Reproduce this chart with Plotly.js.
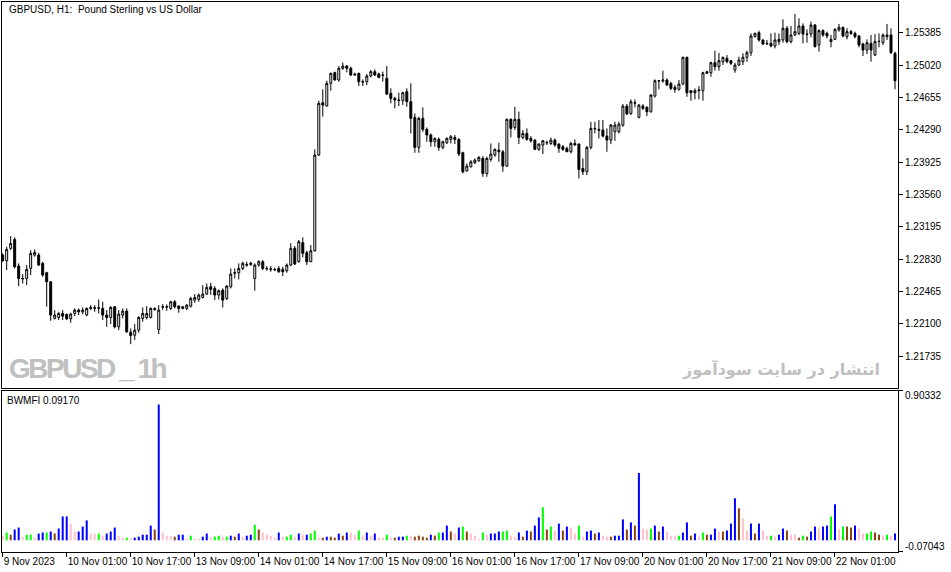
<!DOCTYPE html>
<html>
<head>
<meta charset="utf-8">
<script src="https://cdn.plot.ly/plotly-3.0.1.min.js"></script>
<style>
html, body { margin: 0; padding: 0; background: #fff; }
#graph { width: 951px; height: 572px; }
</style>
</head>
<body>
<div id="graph"></div>
<script>
// GBPUSD H1, 9 Nov 2023 09:00 .. 22 Nov 2023 16:00, one entry per bar
var opens = [
	1.22876,1.22812,1.22951,1.23053,1.22752,1.22612,1.22612,1.22725,1.22876,1.22876,
	1.22782,1.22676,1.22574,1.22160,1.22171,1.22216,1.22205,1.22156,1.22216,1.22254,
	1.22235,1.22198,1.22273,1.22280,1.22276,1.22273,1.22198,1.22171,1.22292,1.22065,
	1.22198,1.22243,1.22005,1.21971,1.22028,1.22160,1.22171,1.22171,1.22273,1.22035,
	1.22292,1.22288,1.22273,1.22348,1.22299,1.22273,1.22273,1.22299,1.22367,1.22375,
	1.22397,1.22435,1.22518,1.22499,1.22424,1.22480,1.22386,1.22518,1.22676,1.22676,
	1.22725,1.22770,1.22770,1.22612,1.22763,1.22801,1.22725,1.22721,1.22714,1.22725,
	1.22714,1.22699,1.22763,1.22952,1.22801,1.23016,1.22903,1.22801,1.22925,1.24006,
	1.24598,1.24560,1.24816,1.24937,1.24854,1.24986,1.25012,1.24986,1.24910,1.24929,
	1.24835,1.24835,1.24899,1.24948,1.24922,1.24906,1.24873,1.24703,1.24646,1.24627,
	1.24620,1.24722,1.24609,1.24431,1.24092,1.24420,1.24296,1.24232,1.24156,1.24183,
	1.24092,1.24145,1.24183,1.24205,1.24183,1.24032,1.23828,1.23873,1.23919,1.23941,
	1.23968,1.23798,1.23956,1.24006,1.24062,1.24043,1.23881,1.24409,1.24318,1.24409,
	1.24205,1.24250,1.24194,1.24175,1.24070,1.24119,1.24149,1.24137,1.24175,1.24130,
	1.24100,1.24081,1.24043,1.24137,1.24130,1.23855,1.23817,1.24092,1.24307,1.24296,
	1.24288,1.24220,1.24175,1.24269,1.24269,1.24344,1.24559,1.24476,1.24597,1.24432,
	1.24559,1.24544,1.24495,1.24672,1.24846,1.24842,1.24853,1.24815,1.24770,1.24748,
	1.24808,1.25110,1.24733,1.24710,1.24733,1.24733,1.24929,1.24936,1.25049,1.25004,
	1.25061,1.25098,1.25072,1.24966,1.25023,1.25061,1.25110,1.25162,1.25343,1.25389,
	1.25306,1.25268,1.25268,1.25238,1.25287,1.25306,1.25438,1.25287,1.25362,1.25381,
	1.25464,1.25373,1.25373,1.25475,1.25249,1.25411,1.25381,1.25287,1.25313,1.25419,
	1.25449,1.25343,1.25400,1.25381,1.25351,1.25260,1.25192,1.25268,1.25136,1.25287,
	1.25275,1.25343,1.25362,1.25155
];
var highs = [
	1.22895,1.22970,1.23091,1.23076,1.22782,1.22661,1.22763,1.22932,1.22940,1.22902,
	1.22801,1.22687,1.22582,1.22254,1.22235,1.22254,1.22216,1.22224,1.22273,1.22273,
	1.22284,1.22284,1.22310,1.22310,1.22375,1.22348,1.22254,1.22299,1.22299,1.22254,
	1.22273,1.22273,1.22047,1.22096,1.22186,1.22284,1.22299,1.22284,1.22284,1.22310,
	1.22322,1.22318,1.22359,1.22367,1.22310,1.22299,1.22322,1.22405,1.22435,1.22442,
	1.22537,1.22555,1.22563,1.22525,1.22488,1.22499,1.22537,1.22725,1.22725,1.22782,
	1.22801,1.22801,1.22801,1.22782,1.22819,1.22819,1.22752,1.22752,1.22733,1.22752,
	1.22744,1.22782,1.23010,1.22978,1.23046,1.23076,1.22925,1.22989,1.24070,1.24620,
	1.24749,1.24846,1.24937,1.24948,1.25012,1.25050,1.25023,1.25004,1.24937,1.24937,
	1.24861,1.24922,1.24967,1.24974,1.24937,1.24948,1.25012,1.24759,1.24665,1.24710,
	1.24722,1.24759,1.24816,1.24477,1.24439,1.24545,1.24318,1.24250,1.24205,1.24205,
	1.24168,1.24205,1.24232,1.24232,1.24194,1.24043,1.23911,1.23949,1.23968,1.23994,
	1.23994,1.23987,1.24137,1.24081,1.24145,1.24062,1.24420,1.24420,1.24552,1.24496,
	1.24288,1.24307,1.24220,1.24183,1.24137,1.24175,1.24168,1.24205,1.24194,1.24137,
	1.24119,1.24100,1.24156,1.24183,1.24137,1.23968,1.24107,1.24382,1.24382,1.24401,
	1.24401,1.24307,1.24356,1.24382,1.24382,1.24582,1.24582,1.24635,1.24635,1.24582,
	1.24582,1.24559,1.24695,1.24861,1.24853,1.24959,1.24872,1.24834,1.24797,1.24853,
	1.25117,1.25117,1.24740,1.24759,1.24785,1.24947,1.24959,1.25061,1.25185,1.25162,
	1.25117,1.25136,1.25079,1.25049,1.25117,1.25155,1.25185,1.25381,1.25389,1.25411,
	1.25313,1.25306,1.25381,1.25389,1.25381,1.25539,1.25464,1.25464,1.25600,1.25551,
	1.25494,1.25426,1.25513,1.25487,1.25426,1.25426,1.25400,1.25362,1.25438,1.25487,
	1.25456,1.25438,1.25419,1.25400,1.25362,1.25275,1.25313,1.25362,1.25373,1.25381,
	1.25381,1.25487,1.25438,1.25174
];
var lows = [
	1.22801,1.22706,1.22932,1.22725,1.22525,1.22555,1.22537,1.22650,1.22857,1.22752,
	1.22631,1.22292,1.22133,1.22148,1.22141,1.22141,1.22141,1.22111,1.22186,1.22198,
	1.22209,1.22186,1.22254,1.22235,1.22216,1.22141,1.22065,1.22096,1.22047,1.22028,
	1.22160,1.21998,1.21869,1.21915,1.21998,1.22122,1.22148,1.22160,1.22246,1.21983,
	1.22254,1.22246,1.22254,1.22273,1.22224,1.22261,1.22254,1.22284,1.22337,1.22348,
	1.22386,1.22424,1.22424,1.22367,1.22375,1.22284,1.22367,1.22499,1.22612,1.22601,
	1.22706,1.22744,1.22752,1.22473,1.22744,1.22706,1.22699,1.22687,1.22695,1.22676,
	1.22638,1.22676,1.22752,1.22763,1.22790,1.22850,1.22763,1.22795,1.22914,1.23995,
	1.24440,1.24553,1.24733,1.24846,1.24835,1.24967,1.24940,1.24899,1.24899,1.24786,
	1.24786,1.24797,1.24884,1.24899,1.24873,1.24835,1.24684,1.24590,1.24533,1.24560,
	1.24571,1.24552,1.24250,1.24032,1.24032,1.24269,1.24156,1.24100,1.24100,1.24054,
	1.24070,1.24130,1.24137,1.24130,1.23994,1.23798,1.23817,1.23866,1.23904,1.23930,
	1.23760,1.23760,1.23930,1.23987,1.23930,1.23817,1.23873,1.24205,1.24288,1.24130,
	1.24183,1.24168,1.24145,1.24062,1.24054,1.24017,1.24119,1.24119,1.24100,1.24032,
	1.24054,1.24040,1.24024,1.24115,1.23742,1.23779,1.23779,1.24070,1.24250,1.24194,
	1.24205,1.24043,1.24129,1.24167,1.24250,1.24325,1.24457,1.24457,1.24544,1.24420,
	1.24514,1.24446,1.24484,1.24657,1.24748,1.24823,1.24785,1.24740,1.24710,1.24733,
	1.24797,1.24665,1.24619,1.24635,1.24635,1.24619,1.24921,1.24891,1.24959,1.24959,
	1.25023,1.25042,1.25023,1.24936,1.25012,1.25023,1.25061,1.25125,1.25336,1.25287,
	1.25249,1.25249,1.25223,1.25211,1.25249,1.25275,1.25268,1.25268,1.25351,1.25362,
	1.25268,1.25275,1.25336,1.25223,1.25174,1.25343,1.25324,1.25223,1.25306,1.25400,
	1.25336,1.25313,1.25362,1.25324,1.25223,1.25125,1.25147,1.25061,1.25125,1.25223,
	1.25249,1.25306,1.25147,1.24748
];
var closes = [
	1.22812,1.22940,1.23008,1.22744,1.22612,1.22608,1.22714,1.22895,1.22906,1.22763,
	1.22650,1.22574,1.22198,1.22198,1.22216,1.22186,1.22156,1.22209,1.22254,1.22235,
	1.22254,1.22273,1.22284,1.22276,1.22280,1.22198,1.22171,1.22284,1.22065,1.22209,
	1.22243,1.22009,1.21967,1.22028,1.22171,1.22216,1.22216,1.22273,1.22261,1.22254,
	1.22288,1.22292,1.22348,1.22292,1.22273,1.22292,1.22310,1.22386,1.22397,1.22424,
	1.22435,1.22510,1.22488,1.22424,1.22473,1.22367,1.22525,1.22661,1.22672,1.22725,
	1.22782,1.22763,1.22782,1.22763,1.22801,1.22725,1.22721,1.22714,1.22710,1.22687,
	1.22687,1.22763,1.22952,1.22775,1.23027,1.22895,1.22801,1.22925,1.24006,1.24590,
	1.24571,1.24816,1.24929,1.24854,1.24986,1.25012,1.24986,1.24910,1.24918,1.24835,
	1.24831,1.24899,1.24948,1.24910,1.24884,1.24910,1.24695,1.24646,1.24627,1.24624,
	1.24710,1.24609,1.24420,1.24092,1.24420,1.24296,1.24232,1.24156,1.24194,1.24092,
	1.24156,1.24194,1.24213,1.24183,1.24017,1.23817,1.23881,1.23930,1.23949,1.23979,
	1.23798,1.23968,1.24017,1.24070,1.24043,1.23881,1.24409,1.24307,1.24409,1.24205,
	1.24250,1.24183,1.24168,1.24070,1.24130,1.24168,1.24145,1.24175,1.24119,1.24081,
	1.24070,1.24043,1.24137,1.24119,1.23843,1.23817,1.24092,1.24307,1.24303,1.24288,
	1.24220,1.24175,1.24344,1.24344,1.24356,1.24559,1.24469,1.24608,1.24593,1.24570,
	1.24533,1.24495,1.24684,1.24846,1.24842,1.24853,1.24797,1.24759,1.24748,1.24808,
	1.25110,1.24710,1.24710,1.24733,1.24740,1.24936,1.24947,1.25049,1.25004,1.25072,
	1.25110,1.25061,1.25042,1.25023,1.25079,1.25110,1.25162,1.25351,1.25381,1.25306,
	1.25260,1.25264,1.25238,1.25306,1.25313,1.25438,1.25287,1.25362,1.25400,1.25464,
	1.25373,1.25369,1.25475,1.25230,1.25411,1.25362,1.25351,1.25313,1.25426,1.25449,
	1.25351,1.25400,1.25381,1.25343,1.25249,1.25192,1.25275,1.25192,1.25287,1.25291,
	1.25362,1.25362,1.25162,1.24846
];

// Bill Williams Market Facilitation Index, one value per bar
var mfi = [
	0.028,0.047,0.034,0.065,0.077,0.022,0.034,0.034,0.016,0.041,
	0.047,0.047,0.053,0.041,0.071,0.144,0.144,0.101,0.053,0.053,
	0.083,0.120,0.041,0.041,0.041,0.028,0.041,0.053,0.077,0.028,
	0.016,0.016,0.010,0.016,0.022,0.034,0.034,0.089,0.065,0.819,
	0.047,0.028,0.028,0.022,0.034,0.034,0.010,0.028,0.010,0.010,
	0.022,0.041,0.016,0.022,0.028,0.022,0.022,0.028,0.022,0.041,
	0.022,0.028,0.034,0.095,0.065,0.047,0.034,0.028,0.016,0.047,
	0.022,0.022,0.034,0.022,0.041,0.034,0.034,0.041,0.059,0.016,
	0.016,0.022,0.022,0.016,0.041,0.028,0.047,0.047,0.034,0.059,
	0.028,0.047,0.028,0.041,0.016,0.016,0.034,0.016,0.016,0.022,
	0.022,0.028,0.028,0.022,0.028,0.022,0.016,0.034,0.028,0.047,
	0.047,0.089,0.053,0.041,0.077,0.083,0.053,0.041,0.028,0.010,
	0.047,0.034,0.041,0.041,0.053,0.053,0.059,0.028,0.022,0.047,
	0.022,0.059,0.053,0.089,0.138,0.199,0.065,0.083,0.059,0.101,
	0.059,0.083,0.077,0.041,0.089,0.022,0.053,0.059,0.041,0.047,
	0.028,0.022,0.022,0.028,0.028,0.126,0.065,0.108,0.089,0.406,
	0.071,0.065,0.071,0.089,0.053,0.083,0.053,0.028,0.028,0.028,
	0.047,0.108,0.028,0.041,0.022,0.047,0.034,0.034,0.071,0.053,
	0.053,0.059,0.101,0.254,0.193,0.132,0.059,0.101,0.041,0.101,
	0.059,0.028,0.028,0.022,0.034,0.071,0.059,0.034,0.034,0.016,
	0.028,0.022,0.053,0.083,0.071,0.083,0.089,0.144,0.217,0.065,
	0.083,0.083,0.077,0.089,0.071,0.041,0.041,0.053,0.047,0.034,
	0.028,0.034,0.028,0.041
];
// g = MFI up & volume up, r = both down (fade), b = MFI up & volume down (fake), p = MFI down & volume up (squat)
var mfiState = [
	'p','g','r','b','b','p','g','g','p','b',
	'b','g','b','r','b','b','b','p','p','b',
	'b','b','p','p','g','p','b','b','b','p',
	'p','g','p','b','b','b','b','b','r','b',
	'p','p','p','r','b','b','p','g','p','p',
	'b','b','p','g','g','p','g','b','r','b',
	'p','b','b','g','r','p','p','p','p','b',
	'p','g','g','p','b','p','b','g','g','p',
	'r','b','r','r','b','r','b','p','p','g',
	'p','b','p','b','p','p','g','p','r','b',
	'b','g','p','r','r','r','r','b','r','g',
	'b','b','r','p','b','g','r','p','p','p',
	'g','p','b','b','b','g','g','p','p','b',
	'r','b','r','b','b','g','r','g','p','b',
	'r','b','p','p','g','p','b','b','r','b',
	'p','p','r','b','b','b','r','b','r','b',
	'p','p','g','b','r','b','p','p','p','g',
	'b','b','r','b','p','g','r','b','b','p',
	'r','b','b','b','r','p','p','b','r','b',
	'p','p','g','p','b','b','r','p','p','r',
	'g','r','b','b','p','b','b','g','b','p',
	'g','r','r','b','p','p','g','g','r','r',
	'p','g','p','b'
];
var stateColor = { g: '#00ff00', r: '#8b4513', b: '#0000ff', p: '#ffc0cb' };

var tickBars = [0, 16, 32, 48, 64, 80, 96, 112, 128, 144, 160, 176, 192, 208];
var tickText = ['9 Nov 2023', '10 Nov 01:00', '10 Nov 17:00', '13 Nov 09:00', '14 Nov 01:00',
	'14 Nov 17:00', '15 Nov 09:00', '16 Nov 01:00', '16 Nov 17:00', '17 Nov 09:00',
	'20 Nov 01:00', '20 Nov 17:00', '21 Nov 09:00', '22 Nov 01:00'];
var priceTicks = [1.21735, 1.22100, 1.22465, 1.22830, 1.23195, 1.23560, 1.23925,
	1.24290, 1.24655, 1.25020, 1.25385];

// page geometry (pixels)
var W = 951, H = 572, ML = 2, MR = 53, MT = 2, MB = 20;
var plotH = H - MT - MB;
var py = function (y) { return (H - MB - y) / plotH; };
var px = function (x) { return (x - ML) / (W - ML - MR); };

var bars = [];
var barColors = [];
for (var i = 0; i < closes.length; i++) {
	bars[i] = i;
	barColors[i] = stateColor[mfiState[i]];
}

var candles = {
	type: 'candlestick',
	x: bars, open: opens, high: highs, low: lows, close: closes,
	xaxis: 'x', yaxis: 'y',
	whiskerwidth: 0,
	line: { width: 1 },
	increasing: { line: { color: '#000000', width: 1 }, fillcolor: '#ffffff' },
	decreasing: { line: { color: '#000000', width: 1 }, fillcolor: '#000000' },
	hoverinfo: 'skip', showlegend: false
};

var hist = {
	type: 'bar',
	x: bars, y: mfi,
	xaxis: 'x2', yaxis: 'y2',
	width: 0.5,
	marker: { color: barColors, line: { width: 0 } },
	hoverinfo: 'skip', showlegend: false
};

// empty trace so the second scale of the lower window gets drawn
var lowScale = { type: 'scatter', x: [], y: [], xaxis: 'x2', yaxis: 'y3',
	hoverinfo: 'skip', showlegend: false };

var xr = [-0.17, 223.75];
var frame = { showline: true, mirror: true, linecolor: '#000000', linewidth: 1,
	showgrid: false, zeroline: false, fixedrange: true };
var font = { family: 'Liberation Sans, Arial, sans-serif', size: 10, color: '#000000' };
var grey = '#c0c0c0';

var layout = {
	width: W, height: H,
	margin: { l: ML, r: MR, t: MT, b: MB, pad: 0 },
	paper_bgcolor: '#ffffff', plot_bgcolor: '#ffffff',
	font: font, showlegend: false, hovermode: false,
	xaxis: Object.assign({}, frame, { anchor: 'y', range: xr, showticklabels: false, ticks: '',
		rangeslider: { visible: false } }),
	xaxis2: Object.assign({}, frame, { anchor: 'y2', matches: 'x', range: xr,
		tickmode: 'array', tickvals: tickBars, ticktext: tickText, tickangle: 0,
		ticks: 'outside', ticklen: 4, tickcolor: '#000000',
		ticklabelposition: 'outside right' }),
	yaxis: Object.assign({}, frame, { domain: [py(388), 1], anchor: 'x', side: 'right',
		range: [1.21374, 1.25735], tickmode: 'array', tickvals: priceTicks, tickformat: '.5f',
		ticks: 'outside', ticklen: 4, tickcolor: '#000000' }),
	yaxis2: Object.assign({}, frame, { domain: [0, py(390.5)], anchor: 'x2', side: 'right',
		range: [-0.07043, 0.90332], tickmode: 'array', tickvals: [0.9031], ticktext: ['0.90332'],
		ticks: 'outside', ticklen: 4, tickcolor: '#000000', ticklabelshift: 5 }),
	yaxis3: { overlaying: 'y2', anchor: 'x2', side: 'right', range: [-0.07043, 0.90332],
		tickmode: 'array', tickvals: [-0.0703], ticktext: ['-0.07043'],
		ticks: 'outside', ticklen: 4, tickcolor: '#000000', ticklabelshift: -5,
		showline: false, showgrid: false, zeroline: false, fixedrange: true },
	annotations: [
		{ xref: 'paper', yref: 'paper', x: px(7), y: py(10), xanchor: 'left', yanchor: 'middle',
			text: 'GBPUSD, H1:\u00a0 Pound Sterling vs US Dollar', showarrow: false, font: font },
		{ xref: 'paper', yref: 'paper', x: px(5), y: py(400), xanchor: 'left', yanchor: 'middle',
			text: 'BWMFI 0.09170', showarrow: false, font: font },
		{ xref: 'paper', yref: 'paper', x: px(7), y: py(368), xanchor: 'left', yanchor: 'middle',
			text: '<b><span style="letter-spacing:-2.5px">GBPUSD _ 1h</span></b>', showarrow: false,
			font: { family: 'Liberation Sans Narrow, Liberation Sans, sans-serif', size: 28, color: grey } },
		{ xref: 'paper', yref: 'paper', x: px(882), y: py(369), xanchor: 'right', yanchor: 'middle',
			text: '<b>انتشار در سایت سودآموز</b>', showarrow: false,
			font: { family: 'Tahoma, DejaVu Sans, sans-serif', size: 16, color: grey } }
	]
};

Plotly.newPlot('graph', [candles, hist, lowScale], layout, { displayModeBar: false, staticPlot: true });
</script>
</body>
</html>
